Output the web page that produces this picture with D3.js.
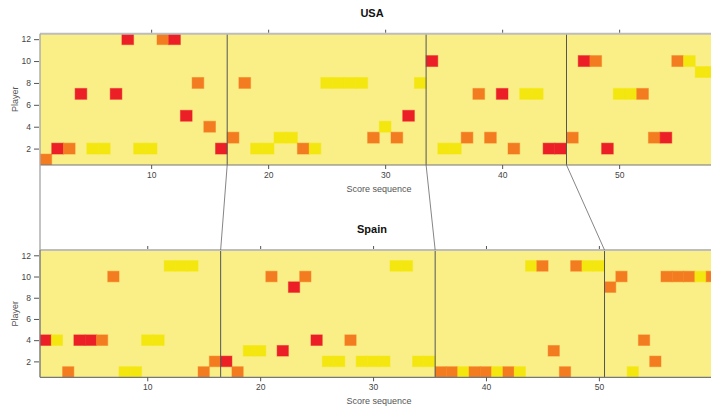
<!DOCTYPE html>
<html>
<head>
<meta charset="utf-8">
<script src="https://cdn.jsdelivr.net/npm/d3@7"></script>
<style>
  html, body { margin: 0; padding: 0; background: #fff; }
  svg { display: block; font-family: "Liberation Sans", Arial, sans-serif; }
</style>
</head>
<body>
<svg id="chart" width="711" height="406"></svg>
<script>
// Player who scored each basket, in order, and the points of that basket.
const usaPlayer = [1,2,2,7,2,2,7,12,2,2,12,12,5,8,4,2,
  3,8,2,2,3,3,2,2,8,8,8,8,3,4,3,5,8,
  10,2,2,3,7,3,7,2,7,7,2,2,
  3,10,10,2,7,7,7,3,3,10,10,9,9];
const usaPoints = [2,3,2,3,1,1,3,3,1,1,2,3,3,2,2,3,
  2,2,1,1,1,1,2,1,1,1,1,1,2,1,2,3,1,
  3,1,1,2,2,2,3,2,1,1,3,3,
  2,3,2,3,1,1,2,2,3,2,1,1,1];
const spainPlayer = [4,4,1,4,4,4,10,1,1,4,4,11,11,11,1,2,
  2,1,3,3,10,3,9,10,4,2,2,4,2,2,2,11,11,2,2,
  1,1,1,1,1,1,1,1,11,11,3,1,11,11,11,
  9,10,1,4,2,10,10,10,10,10];
const spainPoints = [3,1,2,3,3,2,2,1,1,1,1,1,1,1,2,2,
  3,2,1,1,2,3,3,2,3,1,1,2,1,1,1,1,1,1,1,
  2,2,1,2,2,1,2,1,1,2,2,2,2,1,1,
  2,2,1,2,2,2,2,2,1,2];
// Quarter breaks along the score sequence
const usaBreaks = [16.5, 33.5, 45.5];
const spainBreaks = [16.5, 35.5, 50.5];
const xTicks = [10, 20, 30, 40, 50];
const yTicks = [2, 4, 6, 8, 10, 12];

const pointColor = d3.scaleOrdinal().domain([1, 2, 3]).range(["#f4e710", "#f47c20", "#ec1f27"]);

const svg = d3.select("#chart");
const left = 40, right = 711;

const panels = [
  { title: "USA", player: usaPlayer, points: usaPoints, breaks: usaBreaks,
    top: 33.7, bottom: 165, xMax: 57.85, titleY: 17, tickY: 178, labelY: 192 },
  { title: "Spain", player: spainPlayer, points: spainPoints, breaks: spainBreaks,
    top: 250, bottom: 377.3, xMax: 59.93, titleY: 233, tickY: 390, labelY: 404 }
];

panels.forEach((p, i) => {
  p.x = d3.scaleLinear().domain([0.5, p.xMax]).range([left, right]);
  p.y = d3.scaleLinear().domain([0.5, 12.5]).range([p.bottom, p.top]);

  const g = svg.append("g");
  const clipId = "clip" + i;
  svg.append("clipPath").attr("id", clipId)
    .append("rect").attr("x", left).attr("y", p.top)
    .attr("width", right - left).attr("height", p.bottom - p.top);

  // panel background
  g.append("rect").attr("x", left).attr("y", p.top)
    .attr("width", right - left).attr("height", p.bottom - p.top)
    .attr("fill", "#f9ef86");

  const cells = p.player.map((pl, k) => ({ seq: k + 1, player: pl, pts: p.points[k] }));
  g.append("g").attr("clip-path", `url(#${clipId})`)
    .selectAll("rect").data(cells).join("rect")
    .attr("x", d => p.x(d.seq - 0.5))
    .attr("y", d => p.y(d.player + 0.5))
    .attr("width", d => p.x(d.seq + 0.5) - p.x(d.seq - 0.5))
    .attr("height", d => p.y(d.player - 0.5) - p.y(d.player + 0.5))
    .attr("fill", d => pointColor(d.pts))
    .attr("stroke", d => pointColor(d.pts))
    .attr("stroke-opacity", 0.45)
    .attr("stroke-width", 1);

  // quarter separators
  g.selectAll("line.brk").data(p.breaks).join("line")
    .attr("class", "brk")
    .attr("x1", d => p.x(d)).attr("x2", d => p.x(d))
    .attr("y1", p.top).attr("y2", p.bottom)
    .attr("stroke", "#555").attr("stroke-width", 1);

  // frame
  g.append("line").attr("x1", left).attr("x2", right).attr("y1", p.top).attr("y2", p.top)
    .attr("stroke", "#bdbdbd").attr("stroke-width", 2);
  g.append("line").attr("x1", left).attr("x2", right).attr("y1", p.bottom).attr("y2", p.bottom)
    .attr("stroke", "#777").attr("stroke-width", 1.2);
  g.append("line").attr("x1", left).attr("x2", left).attr("y1", p.top).attr("y2", p.bottom)
    .attr("stroke", i === 0 ? "#aaa" : "#777").attr("stroke-width", 1.4);

  // bottom x axis
  const xb = g.append("g").attr("transform", `translate(0,${p.bottom})`)
    .call(d3.axisBottom(p.x).tickValues(xTicks).tickSize(4).tickPadding(3).tickFormat(d3.format("d")));
  xb.select(".domain").remove();
  xb.selectAll("line").attr("stroke", "#555");
  xb.selectAll("text").attr("fill", "#444").attr("font-size", 8.5);

  // top ticks without labels
  const xt = g.append("g").attr("transform", `translate(0,${p.top - 1})`)
    .call(d3.axisTop(p.x).tickValues(xTicks).tickSize(3).tickFormat(""));
  xt.select(".domain").remove();
  xt.selectAll("line").attr("stroke", "#555");

  // y axis
  const ya = g.append("g").attr("transform", `translate(${left - 1},0)`)
    .call(d3.axisLeft(p.y).tickValues(yTicks).tickSize(5).tickPadding(3));
  ya.select(".domain").remove();
  ya.selectAll("line").attr("stroke", "#555");
  ya.selectAll("text").attr("fill", "#444").attr("font-size", 8.5);

  g.append("text").attr("x", 372).attr("y", p.titleY)
    .attr("text-anchor", "middle").attr("font-weight", "bold")
    .attr("font-size", 11).attr("fill", "#111").text(p.title);

  g.append("text").attr("x", 379).attr("y", p.labelY)
    .attr("text-anchor", "middle").attr("font-size", 9)
    .attr("fill", "#555").text("Score sequence");

  g.append("text")
    .attr("transform", `translate(18,${(p.top + p.bottom) / 2}) rotate(-90)`)
    .attr("text-anchor", "middle").attr("font-size", 9)
    .attr("fill", "#555").text("Player");
});

// connectors between matching quarter breaks of the two panels
const [pu, ps] = panels;
const links = [0.5].concat(usaBreaks).map((b, k) => [b, k === 0 ? 0.5 : spainBreaks[k - 1]]);
svg.append("g").selectAll("line").data(links).join("line")
  .attr("x1", d => pu.x(d[0])).attr("y1", pu.bottom)
  .attr("x2", d => ps.x(d[1])).attr("y2", ps.top)
  .attr("stroke", (d, k) => k === 0 ? "#aaa" : "#666")
  .attr("stroke-width", (d, k) => k === 0 ? 1.4 : 0.8);
</script>
</body>
</html>
